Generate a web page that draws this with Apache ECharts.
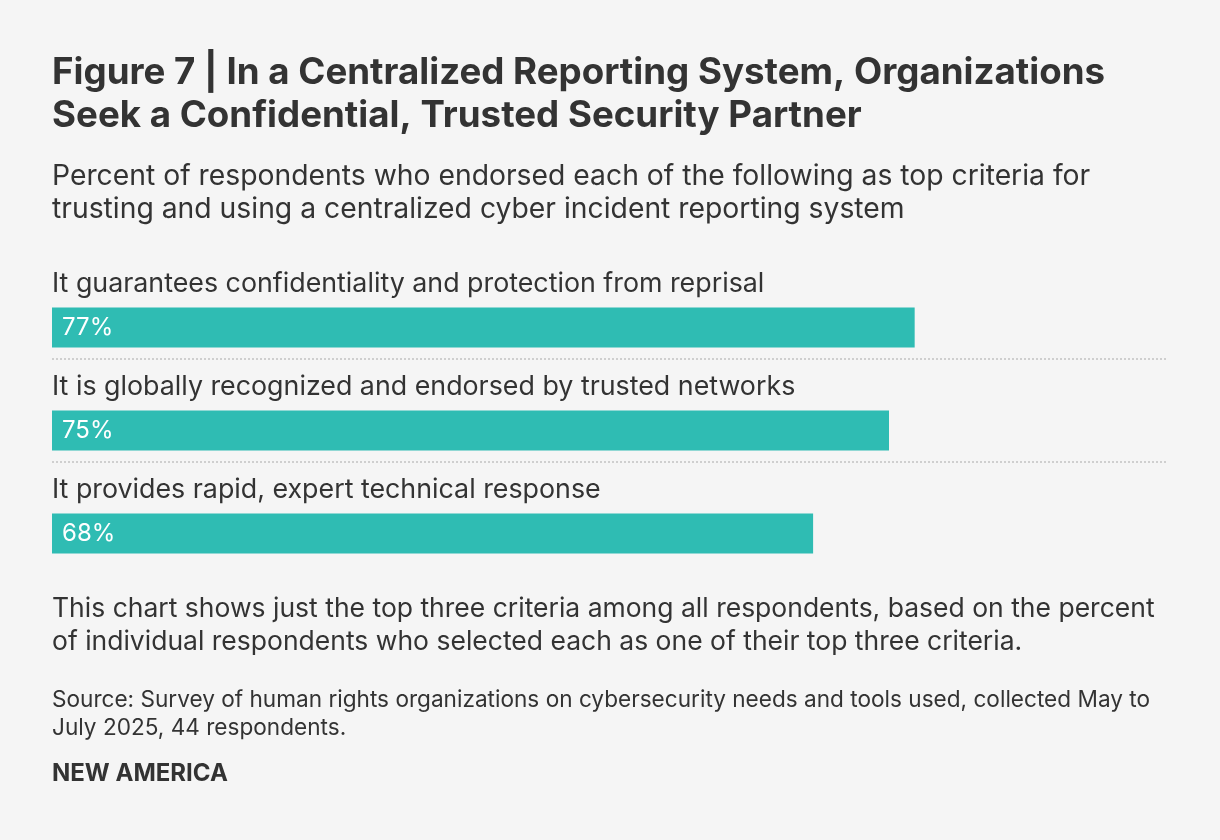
<!DOCTYPE html>
<html>
<head>
<meta charset="utf-8">
<script src="https://cdn.jsdelivr.net/npm/echarts@6/dist/echarts.min.js"></script>
<style>
  html, body { margin: 0; padding: 0; background: #f5f5f5; }
  #chart { width: 1220px; height: 840px; }
</style>
</head>
<body>
<div id="chart"></div>
<script>
// top three criteria, share of 44 respondents
var categories = [
  'It guarantees confidentiality and protection from reprisal',
  'It is globally recognized and endorsed by trusted networks',
  'It provides rapid, expert technical response'
];
var percents = [77.3, 75, 68.2];

var FONT = 'Inter, "Noto Sans", sans-serif';
var INK = '#333333';
var TEAL = '#2fbcb3';

var chart = echarts.init(document.getElementById('chart'));

var textBlock = function(text, top, size, weight, lh) {
  return {
    text: text,
    left: 52,
    top: top,
    padding: 0,
    textStyle: {
      fontFamily: FONT,
      fontSize: size,
      fontWeight: weight,
      color: INK,
      lineHeight: lh
    }
  };
};

chart.setOption({
  backgroundColor: '#f5f5f5',
  animation: false,
  title: [
    textBlock('Figure 7 | In a Centralized Reporting System, Organizations\nSeek a Confidential, Trusted Security Partner', 51, 36.7, 'bold', 43),
    textBlock('Percent of respondents who endorsed each of the following as top criteria for\ntrusting and using a centralized cyber incident reporting system', 160, 28.3, 'normal', 33),
    textBlock('This chart shows just the top three criteria among all respondents, based on the percent\nof individual respondents who selected each as one of their top three criteria.', 593, 26.5, 'normal', 33),
    textBlock('Source: Survey of human rights organizations on cybersecurity needs and tools used, collected May to\nJuly 2025, 44 respondents.', 686, 22.6, 'normal', 28),
    textBlock('NEW AMERICA', 762, 24, 'bold', 24)
  ],
  grid: { left: 52, right: 52, top: 256, height: 309 },
  xAxis: { type: 'value', min: 0, max: 100, show: false },
  yAxis: {
    type: 'category',
    inverse: true,
    data: categories,
    axisLine: { show: false },
    axisTick: { show: false },
    axisLabel: { show: false },
    splitLine: {
      show: true,
      lineStyle: {
        // first and last boundary hidden, only the two separators show
        color: ['rgba(0,0,0,0)', '#cfcfcf', '#cfcfcf', 'rgba(0,0,0,0)'],
        width: 2,
        type: [2, 2]
      }
    }
  },
  series: [
    {
      // invisible bar that carries the category name above each bar
      name: 'label',
      type: 'bar',
      data: percents,
      barWidth: 40,
      barGap: 0,
      silent: true,
      itemStyle: { color: 'rgba(0,0,0,0)' },
      label: {
        show: true,
        position: 'insideLeft',
        distance: 0,
        offset: [0, -4],
        formatter: function(p) { return p.name; },
        fontFamily: FONT,
        fontSize: 26.8,
        color: INK
      }
    },
    {
      name: 'percent',
      type: 'bar',
      data: percents,
      barWidth: 40,
      itemStyle: { color: TEAL },
      label: {
        show: true,
        position: 'insideLeft',
        distance: 10,
        formatter: function(p) { return Math.round(p.value) + '%'; },
        fontFamily: FONT,
        fontSize: 24,
        color: '#ffffff'
      }
    }
  ]
});
</script>
</body>
</html>
